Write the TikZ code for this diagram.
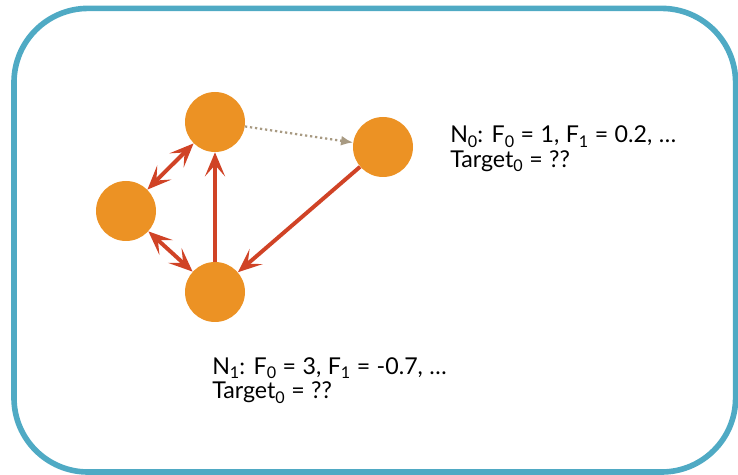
\documentclass[tikz,border=0pt]{standalone}
\usepackage{fontspec}
\setmainfont{Lato}
\usetikzlibrary{arrows.meta}
\definecolor{nodeorange}{RGB}{236,146,36}
\definecolor{edgered}{RGB}{208,67,38}
\definecolor{frameteal}{RGB}{79,170,196}
\definecolor{hintgray}{RGB}{168,154,130}
\newcommand{\idx}[1]{\raisebox{-3pt}{\fontsize{11.5pt}{11.5pt}\selectfont #1}}
\newcommand{\infofont}{\fontsize{16.5pt}{17.5pt}\selectfont\spaceskip 0.28em\relax}
\begin{document}
\begin{tikzpicture}[
        vertex/.style={circle, fill=nodeorange, minimum size=1.5cm, inner sep=0pt},
        edge/.style={draw=edgered, line width=2.8pt, -{Stealth[length=0.6cm, width=0.5cm, inset=0.28cm]}},
        both/.style={edge, {Stealth[length=0.6cm, width=0.5cm, inset=0.28cm]}-{Stealth[length=0.6cm, width=0.5cm, inset=0.28cm]}},
        hint/.style={draw=hintgray, line width=1.6pt, dotted, -{Latex[length=0.3cm, width=0.25cm]}},
        info/.style={anchor=base west, align=left, inner sep=0pt, font=\infofont}
    ]
        \useasboundingbox (0,0) rectangle (18.45,-11.875);
        \draw[frameteal, line width=4pt, rounded corners=1.85cm] (0.35,-0.21) rectangle (18.39,-11.8);

        \node[vertex] (top) at (5.375,-3.05) {};
        \node[vertex] (right) at (9.575,-3.675) {};
        \node[vertex] (left) at (3.15,-5.275) {};
        \node[vertex] (bottom) at (5.375,-7.3) {};

        \draw[both] (left) -- (top);
        \draw[both] (left) -- (bottom);
        \draw[edge] (bottom) -- (top);
        \draw[edge] (right) -- (bottom);
        \draw[hint] (top) -- (right);

        % base anchor sits on the last line
        \node[info] (zero) at (11.25,-4.19) {N\idx{0}: F\idx{0} = 1, F\idx{1} = 0.2, …\\Target\idx{0} = ??};
        \node[info] (one) at (5.3,-9.97) {N\idx{1}: F\idx{0} = 3, F\idx{1} = -0.7, …\\Target\idx{0} = ??};
    \end{tikzpicture}
\end{document}
